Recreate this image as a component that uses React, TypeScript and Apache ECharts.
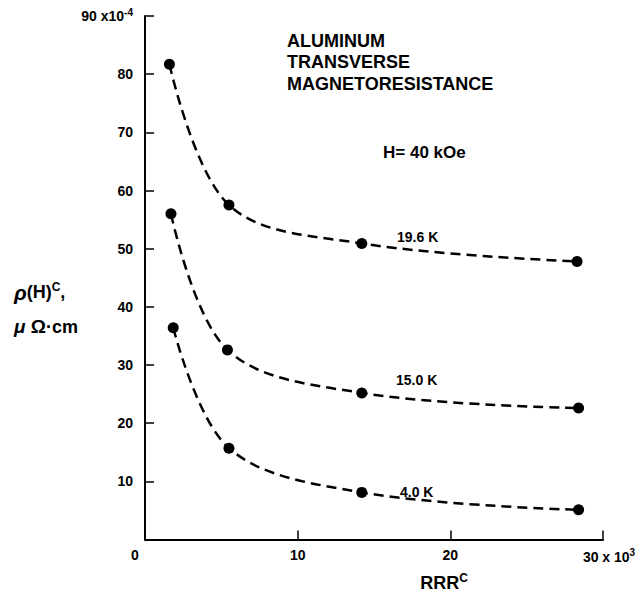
import React, { useEffect, useRef } from "react";
import * as echarts from "echarts";

const series196: [number, number][] = [[1.6, 81.7], [5.5, 57.5], [14.2, 50.9], [28.3, 47.8]];
const series150: [number, number][] = [[1.7, 56.0], [5.4, 32.6], [14.2, 25.2], [28.4, 22.6]];
const series40: [number, number][] = [[1.85, 36.4], [5.5, 15.7], [14.2, 8.1], [28.4, 5.1]];
const seriesNames = ["19.6 K", "15.0 K", "4.0 K"];

const FONT = "'Liberation Sans', Arial, sans-serif";

export default function App() {
  const ref = useRef<HTMLDivElement>(null);
  useEffect(() => {
    if (!ref.current) return;
    const chart = echarts.init(ref.current, undefined, { renderer: "svg" });
    const lineSeries = (name: string, data: [number, number][]) => ({
      name,
      type: "line",
      data,
      smooth: 0.35,
      symbol: "circle",
      symbolSize: 11,
      itemStyle: { color: "#000" },
      lineStyle: { color: "#000", width: 2.5, type: [10, 6] },
    });
    chart.setOption({
      animation: false,
      backgroundColor: "#fff",
      textStyle: { fontFamily: FONT },
      grid: { left: 145, top: 16, right: 40, bottom: 51 },
      xAxis: {
        type: "value",
        min: 0,
        max: 30,
        interval: 10,
        splitLine: { show: false },
        axisLine: { lineStyle: { color: "#000", width: 2 } },
        axisTick: { inside: true, length: 9, lineStyle: { color: "#000", width: 1.5 } },
        axisLabel: {
          color: "#000",
          fontWeight: "bold",
          fontSize: 14,
          margin: 8,
          formatter: (v: number) =>
            v === 0 ? "{z|0}" : v === 30 ? "{a|30 x 10}{s|3}" : String(v),
          rich: {
            z: { fontSize: 14, fontWeight: "bold", padding: [0, 20, 0, 0] },
            a: { fontSize: 14, fontWeight: "bold", padding: [0, 0, 0, 12] },
            s: { fontSize: 10, fontWeight: "bold", verticalAlign: "top", padding: [0, 0, 8, 0] },
          },
        },
        name: "{a|RRR}{s|C}",
        nameLocation: "middle",
        nameGap: 32,
        nameTextStyle: {
          rich: {
            a: { fontSize: 18, fontWeight: "bold", color: "#000", padding: [0, 0, 0, 140] },
            s: { fontSize: 12, fontWeight: "bold", color: "#000", verticalAlign: "top", padding: [0, 0, 11, 0] },
          },
        },
      },
      yAxis: {
        type: "value",
        min: 0,
        max: 90,
        interval: 10,
        splitLine: { show: false },
        axisLine: { lineStyle: { color: "#000", width: 2 } },
        axisTick: { inside: true, length: 9, lineStyle: { color: "#000", width: 1.5 } },
        axisLabel: {
          color: "#000",
          fontWeight: "bold",
          fontSize: 14,
          margin: 12,
          formatter: (v: number) =>
            v === 0 ? "" : v === 90 ? "{a|90 x10}{s|-4}" : String(v),
          rich: {
            a: { fontSize: 14, fontWeight: "bold" },
            s: { fontSize: 10, fontWeight: "bold", verticalAlign: "top", padding: [0, 0, 8, 0] },
          },
        },
      },
      graphic: [
        {
          type: "text",
          left: 287,
          top: 30,
          style: {
            text: "ALUMINUM\nTRANSVERSE\nMAGNETORESISTANCE",
            font: `bold 18px ${FONT}`,
            fill: "#000",
            lineHeight: 21.5,
          },
        },
        {
          type: "text",
          left: 383,
          top: 144,
          style: { text: "H= 40 kOe", font: `bold 17px ${FONT}`, fill: "#000" },
        },
        { type: "text", left: 397, top: 230, style: { text: seriesNames[0], font: `bold 14px ${FONT}`, fill: "#000" } },
        { type: "text", left: 396, top: 373, style: { text: seriesNames[1], font: `bold 14px ${FONT}`, fill: "#000" } },
        { type: "text", left: 400, top: 485, style: { text: seriesNames[2], font: `bold 14px ${FONT}`, fill: "#000" } },
        {
          type: "text",
          left: 14,
          top: 281,
          style: {
            text: "{r|ρ}{a|(H)}{s|C}{a|,}",
            rich: {
              r: { font: `italic bold 21px ${FONT}`, fill: "#000" },
              a: { font: `bold 18px ${FONT}`, fill: "#000" },
              s: { font: `bold 12px ${FONT}`, fill: "#000", verticalAlign: "top", padding: [0, 0, 10, 0] },
            },
          },
        },
        {
          type: "text",
          left: 14,
          top: 317,
          style: {
            text: "{m|μ}{o| Ω}{a|·cm}",
            rich: {
              m: { font: `italic bold 19px ${FONT}`, fill: "#000" },
              o: { font: `bold 19px ${FONT}`, fill: "#000" },
              a: { font: `bold 18px ${FONT}`, fill: "#000" },
            },
          },
        },
      ],
      series: [
        lineSeries(seriesNames[0], series196),
        lineSeries(seriesNames[1], series150),
        lineSeries(seriesNames[2], series40),
      ],
    });
    return () => chart.dispose();
  }, []);
  return (
    <div
      ref={ref}
      style={{ position: "fixed", left: 0, top: 0, width: 643, height: 597, background: "#fff" }}
    />
  );
}
